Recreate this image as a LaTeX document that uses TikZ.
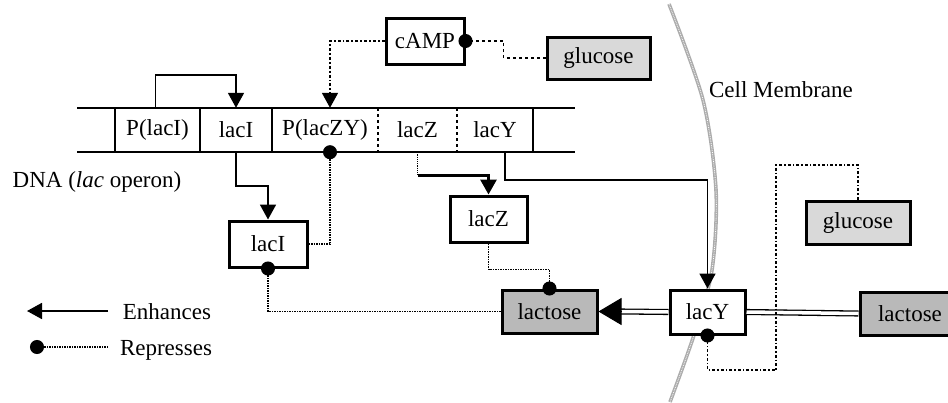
\documentclass[tikz,border=0pt]{standalone}
\usepackage{fontspec}
\setmainfont{Liberation Serif}
\usetikzlibrary{arrows.meta}
\begin{document}
\begin{tikzpicture}[x=1pt,y=-1pt,
  font=\fontsize{23}{27}\selectfont,
  box/.style={draw, line width=3pt, inner sep=0pt, fill=white},
  glu/.style={box, fill=gray!30},
  lac/.style={box, fill=gray!55},
  seg/.style={inner sep=0pt, minimum height=44pt},
  enh/.style={line width=1.8pt, -{Triangle[length=15pt,width=16pt]}},
  rep/.style={line width=1.5pt, densely dotted, -{Circle[length=14pt,width=14pt]}, shorten >=-7pt},
  dnaline/.style={line width=2pt},
  divsolid/.style={line width=2.8pt},
  divdash/.style={line width=1.4pt, dashed},
  membrane/.style={line width=3.6pt, draw=gray!65},
  dbl/.style={line width=1.3pt, double, double distance=3.5pt}
]
\useasboundingbox (0,0) rectangle (948,402);

% cell membrane
\draw[membrane] plot[smooth] coordinates {(669,4) (703,100) (716,190) (712,270) (694,335) (670,402)};
\draw[white, line width=0.8pt, densely dotted] plot[smooth] coordinates {(669,4) (703,100) (716,190) (712,270) (694,335) (670,402)};

% DNA strip
\draw[dnaline] (77,108) -- (575,108);
\draw[dnaline] (77,152) -- (575,152);
\draw[divsolid] (115,108) -- (115,152);
\draw[divsolid] (200,108) -- (200,152);
\draw[divsolid] (272,108) -- (272,152);
\draw[divdash] (378,108) -- (378,152);
\draw[divdash] (457,108) -- (457,152);
\draw[divsolid] (533,108) -- (533,152);

\node[seg, minimum width=85pt] (sPI) at (157.5,130) {P(lacI)};
\node[seg, minimum width=72pt] (sI) at (236,130) {lacI};
\node[seg, minimum width=106pt] (sPZY) at (325,130) {P(lacZY)};
\node[seg, minimum width=79pt] (sZ) at (417.5,130) {lacZ};
\node[seg, minimum width=76pt] (sY) at (495,130) {lacY};

% boxes
\node[box, minimum width=78pt, minimum height=46pt] (camp) at (425,41) {cAMP};
\node[glu, minimum width=103pt, minimum height=42pt] (glu1) at (598.5,58) {glucose};
\node[box, minimum width=78pt, minimum height=46pt] (laciP) at (268,244) {lacI};
\node[box, minimum width=77pt, minimum height=46pt] (laczP) at (488.5,219) {lacZ};
\node[lac, minimum width=95pt, minimum height=43pt] (lacIn) at (549.5,311.5) {lactose};
\node[box, minimum width=75pt, minimum height=44pt] (lacyP) at (707.5,312) {lacY};
\node[glu, minimum width=104pt, minimum height=43pt] (glu2) at (858,222.5) {glucose};
\node[lac, minimum width=100pt, minimum height=43pt] (lacOut) at (910,313.5) {lactose};

% labels
\node (dnalbl) at (97,182) {DNA (\textit{lac} operon)};
\node (cmlbl) at (781,90) {Cell Membrane};
\node (etxt) at (167,312) {Enhances};
\node (rtxt) at (166,350) {Represses};

% connectors
\draw[enh] ([xshift=-2pt]sPI.north) -- ++(0,-33) -| (sI.north);
\draw[enh, dashdotted] (camp.west) -| ([xshift=5pt]sPZY.north);
\draw[rep, dashed] (glu1.west) -- ++(-42,0) |- (camp.east);
\draw[enh] (sI.south) -- ++(0,34) -| (laciP.north);
\draw[rep] (laciP.east) -| ([xshift=5pt]sPZY.south);
\draw[densely dotted, line width=1.2pt] (sZ.south) -- ++(0,23) coordinate (zc);
\draw[enh, line width=3pt] (zc) -| (laczP.north);
\draw[enh] ([xshift=10pt]sY.south) -- ++(0,28) -| (lacyP.north);
\draw[rep] (laczP.south) -- ++(0,26) -| (lacIn.north);
\draw[rep] (lacIn.west) -| (laciP.south);
\draw[dbl] (lacyP.west) -- ([xshift=22pt]lacIn.east);
\draw[line width=1pt, -{Triangle[length=23pt,width=27pt]}] ([xshift=23pt]lacIn.east) -- (lacIn.east);
\draw[dbl] (lacyP.east) -- (lacOut.west);
\coordinate (g1) at (776,165);
\coordinate (g2) at (776,370);
\draw[rep, dashdotted] (glu2.north) |- (g1) -- (g2) -| (lacyP.south);

% legend
\coordinate (le1) at (108,311);
\coordinate (le2) at (27,311);
\draw[enh] (le1) -- (le2);
\coordinate (lr1) at (108,347);
\coordinate (lr2) at (37,347);
\draw[rep] (lr1) -- (lr2);
\end{tikzpicture}
\end{document}
